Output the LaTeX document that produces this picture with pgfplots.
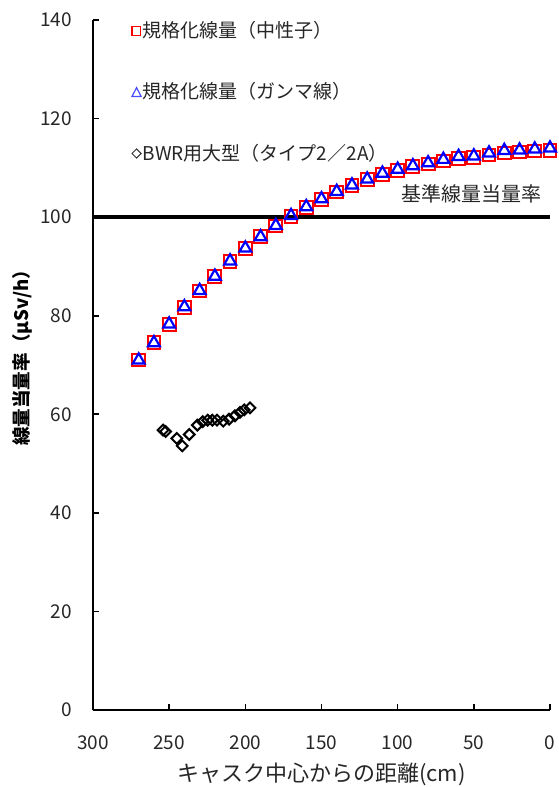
\documentclass[border=0pt]{standalone}
\usepackage{fontspec}
\setmainfont{Noto Sans CJK JP}
\usepackage{pgfplots}
\pgfplotsset{compat=1.18}
\pgfplotstableread{
x y
270 71.0
260 74.5
250 78.2
240 81.7
230 85.0
220 88.0
210 91.0
200 93.6
190 96.0
180 98.2
170 100.2
160 102.0
150 103.6
140 105.1
130 106.4
120 107.6
110 108.7
100 109.5
90 110.2
80 110.8
70 111.4
60 111.9
50 112.1
40 112.6
30 113.0
20 113.2
10 113.4
0 113.5
}\neutron
\pgfplotstableread{
x y
270 71.0
260 74.5
250 78.3
240 81.8
230 85.1
220 88.0
210 91.1
200 93.7
190 96.0
180 98.3
170 100.3
160 102.1
150 103.7
140 105.2
130 106.5
120 107.7
110 108.9
100 109.7
90 110.4
80 111.0
70 111.7
60 112.3
50 112.4
40 113.0
30 113.5
20 113.6
10 113.8
0 114.0
}\gamma
\pgfplotstableread{
x y
254 56.8
252.3 56.5
245 55.1
241.4 53.6
236.8 55.9
231.5 57.8
228 58.5
224.7 58.8
221.7 58.8
218.6 58.8
214.5 58.6
210.7 59.0
206.8 59.7
203.5 60.4
200.7 60.9
196.9 61.3
}\bwr
\begin{document}
\begin{tikzpicture}
\begin{axis}[
  scale only axis,
  width=228.5bp, height=345bp,
  xmin=0, xmax=300, ymin=0, ymax=140,
  x dir=reverse,
  clip=false,
  axis lines=left,
  axis line style={-, line width=1bp, black},
  tick align=inside,
  major tick length=3bp,
  tick style={line width=0.8bp, black},
  xtick={0,50,...,300},
  ytick={0,20,...,140},
  /pgf/number format/assume math mode=true,
  tick label style={font=\fontsize{9.5bp}{11bp}\selectfont, text=black!85},
  xticklabel style={anchor=center, yshift=-16.5bp},
  yticklabel style={anchor=east, xshift=-7bp},
  xlabel={キャスク中心からの距離(cm)},
  ylabel={線量当量率（μSv/h）},
  xlabel style={at={(axis description cs:0.5,-0.094)}, anchor=center, font=\fontsize{11bp}{12bp}\selectfont, text=black!85},
  ylabel style={at={(axis description cs:-0.154,0.517)}, anchor=center, font=\bfseries\fontsize{9.3bp}{11bp}\selectfont},
  legend style={draw=none, fill=none, at={(axis description cs:0,1)}, anchor=north west, xshift=16bp, yshift=2bp,
    row sep=20bp, font=\fontsize{9.5bp}{11bp}\selectfont, nodes={inner sep=0.5bp, text=black!85}},
  legend cell align=left,
]
\addplot[draw=black, line width=2bp, forget plot] coordinates {(300,100) (0,100)};
\addplot[only marks, mark=square, mark size=3.2bp, red, mark options={line width=1bp, draw=red},
  legend image code/.code={\draw[red, line width=0.6bp] (0bp,-2.1bp) rectangle (4.3bp,2.2bp);}]
  table[x=x,y=y] {\neutron};
\addlegendentry{規格化線量（中性子）}
\addplot[only marks, mark=triangle, mark size=3.4bp, blue, mark options={line width=1.1bp, draw=blue},
  legend image code/.code={\draw[blue!70, line width=0.6bp] (0bp,-2.1bp) -- (4.6bp,-2.1bp) -- (2.3bp,2.3bp) -- cycle;}]
  table[x=x,y=y] {\gamma};
\addlegendentry{規格化線量（ガンマ線）}
\addplot[only marks, mark=square, mark size=1.9bp, black, mark options={line width=1bp, draw=black, rotate=45},
  legend image code/.code={\draw[black!80, line width=0.5bp] (0bp,0bp) -- (2.3bp,2.3bp) -- (4.6bp,0bp) -- (2.3bp,-2.3bp) -- cycle;}]
  table[x=x,y=y] {\bwr};
\addlegendentry{BWR用大型（タイプ2／2A）}
\node[anchor=east, font=\fontsize{10bp}{12bp}\selectfont, text=black!85] at (axis cs:1,104.7) {基準線量当量率};
\end{axis}
\pgfresetboundingbox
\useasboundingbox (-46.5bp,-38.5bp) rectangle (233bp,355bp);
\end{tikzpicture}
\end{document}
